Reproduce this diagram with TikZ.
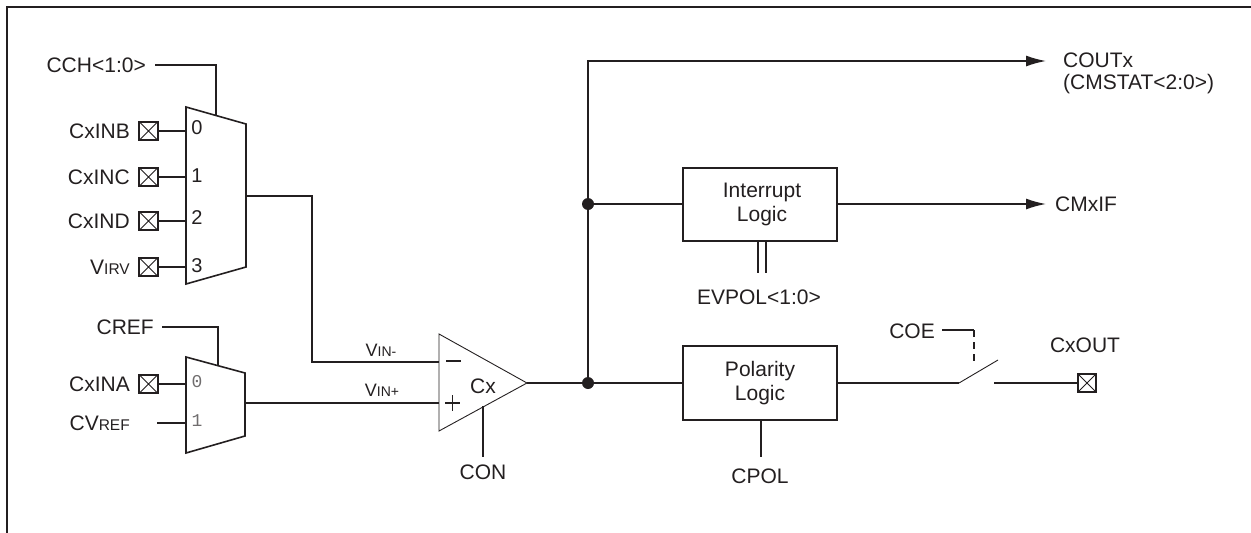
\documentclass[tikz,border=0pt]{standalone}
\usepackage{fontspec}
\setmainfont{Liberation Sans}
\setmonofont{Liberation Mono}
\usetikzlibrary{arrows.meta}
\definecolor{ink}{HTML}{231F20}
\tikzset{
  wire/.style={draw=ink,line width=1.6pt},
  thin wire/.style={draw=ink,line width=0.9pt},
  box/.style={draw=ink,line width=1.7pt,fill=white,minimum width=154pt,inner sep=0pt,align=center,font=\fontsize{21}{24}\selectfont,text=ink},
  lbl/.style={inner sep=0pt,text=ink,font=\fontsize{21}{24}\selectfont},
  muxnum/.style={inner sep=0pt,text=ink,font=\fontsize{20}{22}\selectfont},
  muxmono/.style={inner sep=0pt,text=ink!65,font=\fontsize{18}{20}\ttfamily},
  pad/.style={draw=ink,line width=2.2pt,fill=white,minimum size=18.5pt,inner sep=0pt,path picture={\draw[ink,line width=0.8pt] (path picture bounding box.south west)--(path picture bounding box.north east) (path picture bounding box.north west)--(path picture bounding box.south east);}},
  dotn/.style={circle,fill=ink,minimum size=12pt,inner sep=0pt},
  arr/.style={-{Latex[length=20pt,width=11pt]}}
}
\newcommand{\SC}[2]{#1{\fontsize{15.5}{18}\selectfont #2}}
\newcommand{\SV}[1]{{\fontsize{18}{20}\selectfont V\fontsize{14}{16}\selectfont #1}}
\begin{document}
\begin{tikzpicture}[x=1pt,y=-1pt]
\useasboundingbox (0,0) rectangle (1251,533);
\draw[wire,line width=1.7pt] (7,533) -- (7,7) -- (1251,7);
% mux A
\draw[wire] (186,107) -- (246,124) -- (246,267) -- (186,284) -- cycle;
\coordinate (m1sel) at (216,116);
\coordinate (m1out) at (246,196);
\node[lbl,anchor=east] (cch) at (146,65) {CCH<1:0>};
\coordinate (cchs) at (155,65);
\draw[wire] (cchs) -| (m1sel);
\foreach \n/\t/\y/\d/\ny in {b/CxINB/131/0/128,c/CxINC/177/1/176,d/CxIND/221/2/218,v/\SC{V}{IRV}/267/3/266}{
  \node[pad] (p\n) at (148.5,\y) {};
  \node[lbl,anchor=east] (l\n) at (130,\y) {\t};
  \coordinate (i\n) at (186,\y);
  \draw[wire] (p\n) -- (i\n);
  \node[muxnum] (n\n) at (197,\ny) {\d};
}
% mux B
\draw[wire] (186,357) -- (245,373) -- (245,436) -- (186,453) -- cycle;
\node[lbl,anchor=east] (cref) at (154,327) {CREF};
\coordinate (crefs) at (162,327);
\coordinate (m2sel) at (218,365);
\draw[wire] (crefs) -| (m2sel);
\node[pad] (pa) at (148.5,384) {};
\node[lbl,anchor=east] (la) at (130,384) {CxINA};
\coordinate (ia) at (186,384);
\draw[wire] (pa) -- (ia);
\node[lbl,anchor=east] (lr) at (130,423) {\SC{CV}{REF}};
\coordinate (lrs) at (157,423);
\coordinate (ir) at (186,423);
\draw[wire] (lrs) -- (ir);
\node[muxmono] (n0) at (197,382) {0};
\node[muxmono] (n1) at (197,421) {1};
% comparator
\draw[thin wire] (439,334) -- (439,431) -- (527,383) -- cycle;
\coordinate (cout) at (527,383);
\coordinate (vm) at (439,362);
\coordinate (vp) at (439,403);
\coordinate (m1) at (312,196);
\draw[wire] (m1out) -- (m1) |- (vm);
\coordinate (m2out) at (245,403);
\draw[wire] (m2out) -- (vp);
\node[inner sep=0pt,text=ink] (vinm) at (381,350) {\SV{IN-}};
\node[inner sep=0pt,text=ink] (vinp) at (382,390) {\SV{IN+}};
\draw[ink,line width=1.6pt] (446,361) -- (461,361) (445,403) -- (460,403) (452.5,395) -- (452.5,411);
\node[lbl] (cx) at (483,386) {Cx};
\coordinate (cont) at (483,406);
\node[lbl] (con) at (483,472) {CON};
\coordinate (conb) at (483,457);
\draw[wire] (cont) -- (conb);
% junctions
\node[dotn] (j2) at (588,383) {};
\node[dotn] (j1) at (588,204) {};
\coordinate (top) at (588,61);
\coordinate (topa) at (1046,61);
\node[box,minimum height=73pt] (int) at (760,204.5) {\hspace*{4pt}Interrupt\\\hspace*{4pt}Logic};
\node[box,minimum height=74pt] (pol) at (760,383) {Polarity\\Logic};
\coordinate (polw) at (pol.west |- j2);
\draw[wire] (cout) -- (j2) -- (polw);
\draw[wire] (j2) -- (j1) -- (588,60.2);
\draw[wire,arr] (top) -- (topa);
\coordinate (intw) at (int.west |- j1);
\coordinate (inte) at (int.east |- j1);
\draw[wire] (j1) -- (intw);
\coordinate (cma) at (1046,204);
\draw[wire,arr] (inte) -- (cma);
\node[lbl,anchor=west] (coutx) at (1063,60) {COUTx};
\node[lbl,anchor=west] (cmstat) at (1063,84) {(CMSTAT<2:0>)};
\node[lbl,anchor=west] (cmxif) at (1055,204) {CMxIF};
\coordinate (ev1) at (758,241);
\coordinate (ev2) at (766,241);
\coordinate (ev1b) at (758,273);
\coordinate (ev2b) at (766,273);
\draw[wire] (ev1) -- (ev1b) (ev2) -- (ev2b);
\node[lbl] (evp) at (759,297) {EVPOL<1:0>};
\coordinate (cpt) at (761,420);
\coordinate (cpb) at (761,457);
\draw[wire] (cpt) -- (cpb);
\node[lbl] (cpol) at (760,476) {CPOL};
% switch
\coordinate (sw1) at (959,383);
\coordinate (sw2) at (998,360);
\coordinate (sw3) at (994,383);
\coordinate (pole) at (pol.east |- sw1);
\draw[wire] (pole) -- (sw1);
\draw[thin wire] (sw1) -- (sw2);
\node[pad] (po) at (1087,383) {};
\draw[wire] (sw3) -- (po);
\node[lbl] (cxo) at (1085,345) {CxOUT};
\node[lbl,anchor=east] (coe) at (935,331) {COE};
\coordinate (coes) at (942,330);
\coordinate (coec) at (974,330);
\coordinate (coeb) at (974,365);
\draw[wire] (coes) -- (coec);
\draw[wire,dash pattern=on 7pt off 5pt] (coec) -- (coeb);
\end{tikzpicture}
\end{document}
